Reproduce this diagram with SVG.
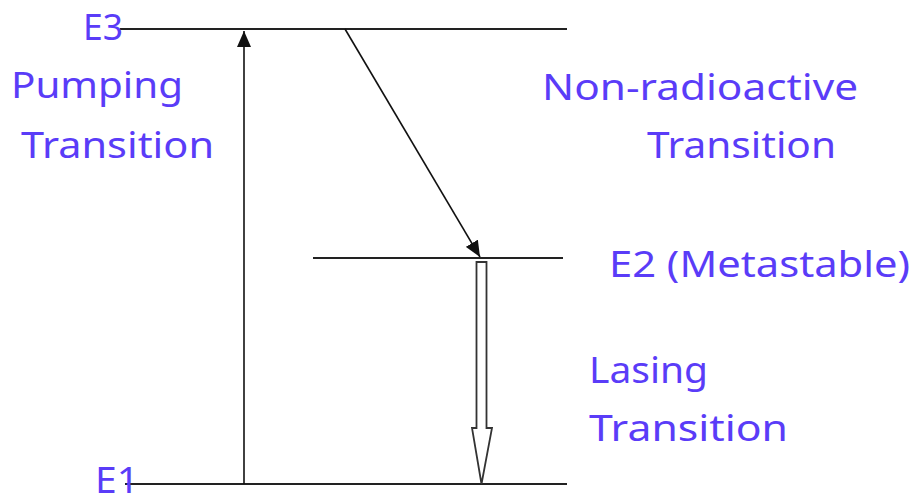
<svg xmlns="http://www.w3.org/2000/svg" width="916" height="504" viewBox="0 0 916 504">
<style>
.lbl{font-family:"Noto Sans","Open Sans","Liberation Sans",sans-serif;font-size:37px;fill:#5a3cf8}
.lvl{stroke:#222;stroke-width:2;fill:none}
.ar{stroke:#111;stroke-width:1.6;fill:none}
</style>
<defs>
<marker id="head2" viewBox="0 0 16 14" refX="16" refY="7" markerWidth="16" markerHeight="14" markerUnits="userSpaceOnUse" orient="auto">
<path d="M0,0 L16,7 L0,14 Z" fill="#111"/>
</marker>
</defs>
<rect width="916" height="504" fill="#fff"/>
<g id="E3">
<line class="lvl" x1="120" y1="29" x2="567" y2="29"/>
<text class="lbl" x="83" y="40" textLength="40" lengthAdjust="spacingAndGlyphs">E3</text>
</g>
<g id="E2">
<line class="lvl" x1="313" y1="258" x2="563" y2="258"/>
<text class="lbl" x="609" y="277" textLength="301" lengthAdjust="spacingAndGlyphs">E2 (Metastable)</text>
</g>
<g id="E1">
<line class="lvl" x1="125" y1="484" x2="567" y2="484"/>
<text class="lbl" x="95" y="493" font-size="34" textLength="44" lengthAdjust="spacingAndGlyphs">E1</text>
</g>
<g id="pumping-label">
<text class="lbl" x="11" y="98" textLength="172" lengthAdjust="spacingAndGlyphs">Pumping</text>
<text class="lbl" x="21" y="158" textLength="193" lengthAdjust="spacingAndGlyphs">Transition</text>
</g>
<g id="nonrad-label">
<text class="lbl" x="542" y="100" textLength="316" lengthAdjust="spacingAndGlyphs">Non-radioactive</text>
<text class="lbl" x="647" y="158" textLength="189" lengthAdjust="spacingAndGlyphs">Transition</text>
</g>
<g id="lasing-label">
<text class="lbl" x="589" y="383" textLength="119" lengthAdjust="spacingAndGlyphs">Lasing</text>
<text class="lbl" x="589" y="441" textLength="199" lengthAdjust="spacingAndGlyphs">Transition</text>
</g>
<g id="connectors">
<line class="ar" x1="244" y1="484" x2="244" y2="31" marker-end="url(#head2)"/>
<line class="ar" x1="345" y1="29" x2="480" y2="257" marker-end="url(#head2)"/>
<path d="M476.5,262 L486.5,262 L486.5,428 L492,428 L481.5,484 L472,428 L476.5,428 Z" fill="#fff" stroke="#333" stroke-width="1.8" stroke-linejoin="miter"/>
</g>
</svg>
